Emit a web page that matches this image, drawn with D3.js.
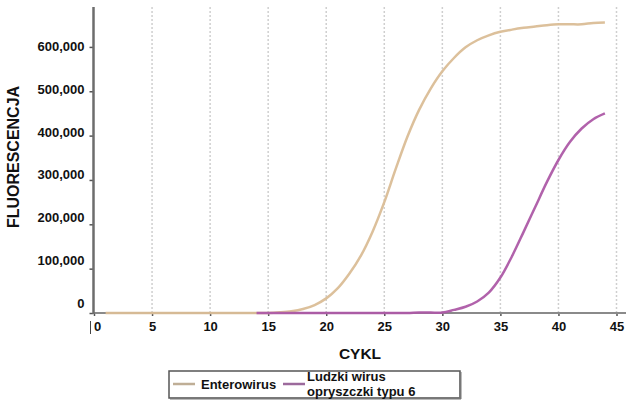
<!DOCTYPE html>
<html><head><meta charset="utf-8">
<script src="https://cdn.jsdelivr.net/npm/d3@7/dist/d3.min.js"></script>
<style>
html,body{margin:0;padding:0;background:#fff;}
svg{display:block;font-family:"Liberation Sans",Arial,sans-serif;}
</style></head>
<body><svg id="c" width="626" height="402"></svg>
<script>
const cycles = [1,2,3,4,5,6,7,8,9,10,11,12,13,14,15,16,17,18,19,20,21,22,23,24,25,26,27,28,29,30,31,32,33,34,35,36,37,38,39,40,41,42,43,44];
const enterowirus = [0,0,0,0,0,0,0,0,0,0,0,0,0,0,0,1500,4000,9000,18000,33000,56000,89000,130000,184000,250000,326000,398000,458000,506000,545000,575000,599000,615000,626000,634000,639000,643000,646000,649000,651000,651000,651000,654000,655000];
const hhv6 = [null,null,null,null,null,null,null,null,null,null,null,null,null,0,0,0,0,0,0,0,0,0,0,0,0,0,0,1000,1000,1000,7000,14000,26000,46000,80000,128000,183000,239000,295000,345000,386000,416000,437000,450000];
const xTicks = [0,5,10,15,20,25,30,35,40,45];
const yTicks = [0,100000,200000,300000,400000,500000,600000];
const seriesNames = ["Enterowirus","Ludzki wirus|opryszczki typu 6"];
const colors = ["#dabd96","#ad5aa6"];
const legendColors = ["#bfae96","#9c6a9c"];
const xTitle = "CYKL", yTitle = "FLUORESCENCJA";

const svg = d3.select("#c");
const x = d3.scaleLinear().domain([0,45]).range([94,616.5]);
const y = d3.scaleLinear().domain([0,690000]).range([313,7]);
const fmt = d3.format(",");

// gridlines
svg.append("g").selectAll("line").data(xTicks.filter(d=>d>0)).join("line")
  .attr("x1",d=>x(d)).attr("x2",d=>x(d)).attr("y1",7).attr("y2",313)
  .attr("stroke","#cfcfcf").attr("stroke-width",1.5).attr("stroke-dasharray","2,2");

// x axis
const xa = svg.append("g").attr("transform","translate(0,313)")
  .call(d3.axisBottom(x).tickValues(xTicks).tickSize(3).tickPadding(6).tickFormat(d=>d));
xa.select(".domain").remove();
xa.selectAll(".tick line").attr("stroke","#555").attr("stroke-width",1.5);
xa.selectAll(".tick text").attr("font-size",13).attr("font-weight","bold").attr("fill","#111")
  .attr("font-family","Liberation Sans, Arial, sans-serif");
xa.selectAll(".tick").filter(d=>d===0).select("text").attr("dx",3);
svg.append("line").attr("x1",94).attr("x2",626).attr("y1",313).attr("y2",313)
  .attr("stroke","#8a8a8a").attr("stroke-width",2);
svg.append("line").attr("x1",90.5).attr("x2",90.5).attr("y1",321).attr("y2",334)
  .attr("stroke","#444").attr("stroke-width",1);

// y axis
const ya = svg.append("g").attr("transform","translate(93.5,0)")
  .call(d3.axisLeft(y).tickValues(yTicks).tickSize(4).tickPadding(5).tickFormat(fmt));
ya.select(".domain").remove();
ya.selectAll(".tick line").attr("stroke","#555").attr("stroke-width",1.5);
ya.selectAll(".tick text").attr("font-size",13).attr("font-weight","bold").attr("fill","#111")
  .attr("font-family","Liberation Sans, Arial, sans-serif")
  .attr("transform",d=>`translate(0,${-(1-d/600000)*9 - 0.7})`);
svg.append("line").attr("x1",93.5).attr("x2",93.5).attr("y1",7).attr("y2",314)
  .attr("stroke","#6d6d6d").attr("stroke-width",2.5);

// lines
const line = d3.line().defined(d=>d[1]!==null).x(d=>x(d[0])).y(d=>y(d[1])).curve(d3.curveCatmullRom.alpha(0.5));
[enterowirus,hhv6].forEach((vals,i)=>{
  svg.append("path").datum(cycles.map((c,j)=>[c,vals[j]]))
    .attr("d",line).attr("fill","none").attr("stroke",colors[i]).attr("stroke-width",2.5)
    .attr("stroke-linejoin","round").attr("opacity",0.95);
});

// titles
svg.append("text").attr("x",360).attr("y",359).attr("text-anchor","middle")
  .attr("font-size",15.5).attr("font-weight","bold").attr("fill","#111").text(xTitle);
svg.append("text").attr("transform","translate(19,157) rotate(-90)").attr("text-anchor","middle")
  .attr("font-size",16).attr("font-weight","bold").attr("fill","#111").text(yTitle);

// legend
const lg = svg.append("g");
lg.append("rect").attr("x",169).attr("y",371).attr("width",291).attr("height",27)
  .attr("fill","#fff").attr("stroke","#555").attr("stroke-width",1.5);
lg.append("line").attr("x1",460.5).attr("x2",460.5).attr("y1",372).attr("y2",399).attr("stroke","#777").attr("stroke-width",2);
lg.append("line").attr("x1",170).attr("x2",461).attr("y1",398.5).attr("y2",398.5).attr("stroke","#777").attr("stroke-width",2);
lg.append("line").attr("x1",173).attr("x2",195).attr("y1",384).attr("y2",384).attr("stroke",legendColors[0]).attr("stroke-width",2.5);
lg.append("text").attr("x",201).attr("y",388.5).attr("font-size",13).attr("font-weight","bold").attr("fill","#111").text(seriesNames[0]);
lg.append("line").attr("x1",283).attr("x2",305).attr("y1",384).attr("y2",384).attr("stroke",legendColors[1]).attr("stroke-width",2.5);
const t2 = lg.append("text").attr("x",307).attr("y",381).attr("font-size",13).attr("font-weight","bold").attr("fill","#111");
seriesNames[1].split("|").forEach((s,i)=>t2.append("tspan").attr("x",307).attr("dy",i?14.5:0).text(s));
</script></body></html>
